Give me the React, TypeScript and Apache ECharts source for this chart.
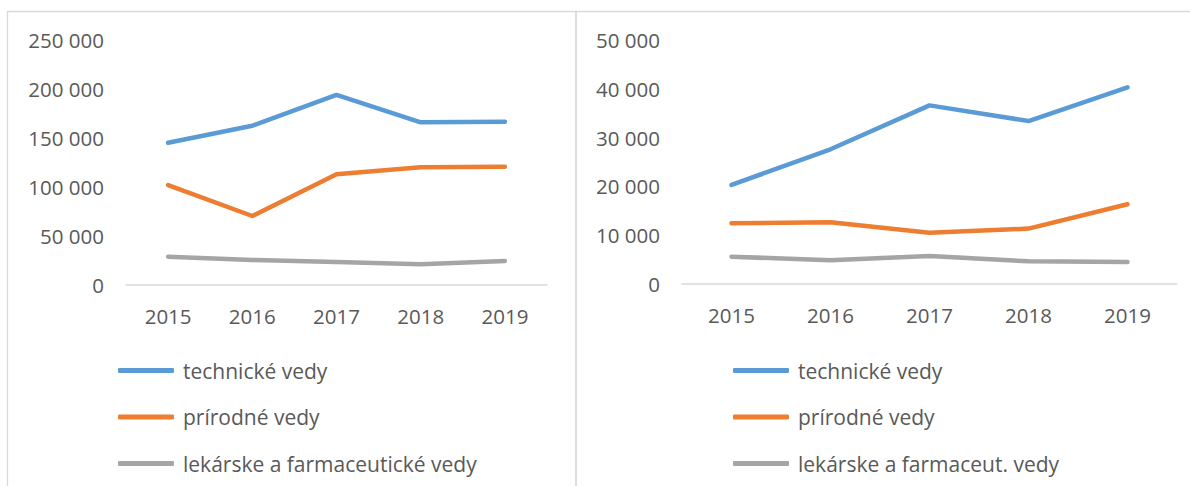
import React, { useEffect, useRef } from "react";
import * as echarts from "echarts";

const years = ["2015", "2016", "2017", "2018", "2019"];
const seriesNamesLeft = ["technické vedy", "prírodné vedy", "lekárske a farmaceutické vedy"];
const seriesNamesRight = ["technické vedy", "prírodné vedy", "lekárske a farmaceut. vedy"];
const leftTech = [145200, 162500, 194000, 166000, 166500];
const leftNat = [102000, 70400, 113000, 120100, 120700];
const leftMed = [28900, 25500, 23500, 21100, 24500];
const rightTech = [20300, 27600, 36600, 33400, 40300];
const rightNat = [12450, 12650, 10500, 11350, 16350];
const rightMed = [5600, 4850, 5750, 4650, 4500];
const colors = ["#5B9BD5", "#ED7D31", "#A5A5A5"];

const FONT = "'Open Sans', sans-serif";
const fmt = (v: number) => String(v).replace(/\B(?=(\d{3})+(?!\d))/g, " ");

export default function App() {
  const ref = useRef<HTMLDivElement>(null);
  useEffect(() => {
    if (!ref.current) return;
    const chart = echarts.init(ref.current, null, { renderer: "svg" });
    const mkSeries = (name: string, data: number[], i: number, idx: number) => ({
      type: "line",
      name,
      data,
      xAxisIndex: idx,
      yAxisIndex: idx,
      symbol: "none",
      lineStyle: { width: 4.5, color: colors[i], cap: "round", join: "round" },
      itemStyle: { color: colors[i] },
    });
    const xAxisCommon = {
      type: "category",
      data: years,
      boundaryGap: true,
      axisLine: { lineStyle: { color: "#D9D9D9", width: 1.5 } },
      axisTick: { show: false },
      axisLabel: { color: "#595959", fontSize: 20.5, fontFamily: FONT, margin: 20 },
    };
    const yAxisCommon = {
      type: "value",
      min: 0,
      axisLine: { show: false },
      axisTick: { show: false },
      splitLine: { show: false },
      axisLabel: { color: "#595959", fontSize: 20.5, fontFamily: FONT, margin: 22, formatter: fmt },
    };
    const legendCommon = {
      orient: "vertical",
      top: 355,
      itemWidth: 56,
      itemHeight: 5,
      itemGap: 25.5,
      icon: "roundRect",
      textStyle: { color: "#595959", fontSize: 21, fontFamily: FONT, lineHeight: 20, padding: [0, 0, 0, 4] },
    };
    chart.setOption({
      animation: false,
      graphic: [
        {
          type: "rect",
          shape: { x: 7.5, y: 11.5, width: 568.5, height: 600 },
          style: { fill: "none", stroke: "#D9D9D9", lineWidth: 1.3 },
          silent: true,
        },
        {
          type: "rect",
          shape: { x: 576, y: 11.5, width: 700, height: 600 },
          style: { fill: "none", stroke: "#D9D9D9", lineWidth: 1.3 },
          silent: true,
        },
      ],
      grid: [
        { left: 126, top: 40, width: 421, height: 245 },
        { left: 682, top: 40, width: 495, height: 244 },
      ],
      xAxis: [
        { ...xAxisCommon, gridIndex: 0 },
        { ...xAxisCommon, gridIndex: 1 },
      ],
      yAxis: [
        { ...yAxisCommon, gridIndex: 0, max: 250000, interval: 50000 },
        { ...yAxisCommon, gridIndex: 1, max: 50000, interval: 10000 },
      ],
      legend: [
        { ...legendCommon, left: 113, data: seriesNamesLeft },
        { ...legendCommon, left: 728, data: seriesNamesRight },
      ],
      series: [
        mkSeries(seriesNamesLeft[0], leftTech, 0, 0),
        mkSeries(seriesNamesLeft[1], leftNat, 1, 0),
        mkSeries(seriesNamesLeft[2], leftMed, 2, 0),
        mkSeries(seriesNamesRight[0], rightTech, 0, 1),
        mkSeries(seriesNamesRight[1], rightNat, 1, 1),
        mkSeries(seriesNamesRight[2], rightMed, 2, 1),
      ],
    });
    return () => chart.dispose();
  }, []);
  return (
    <div
      ref={ref}
      style={{ position: "absolute", left: 0, top: 0, width: 1190, height: 486, background: "#fff" }}
    />
  );
}
